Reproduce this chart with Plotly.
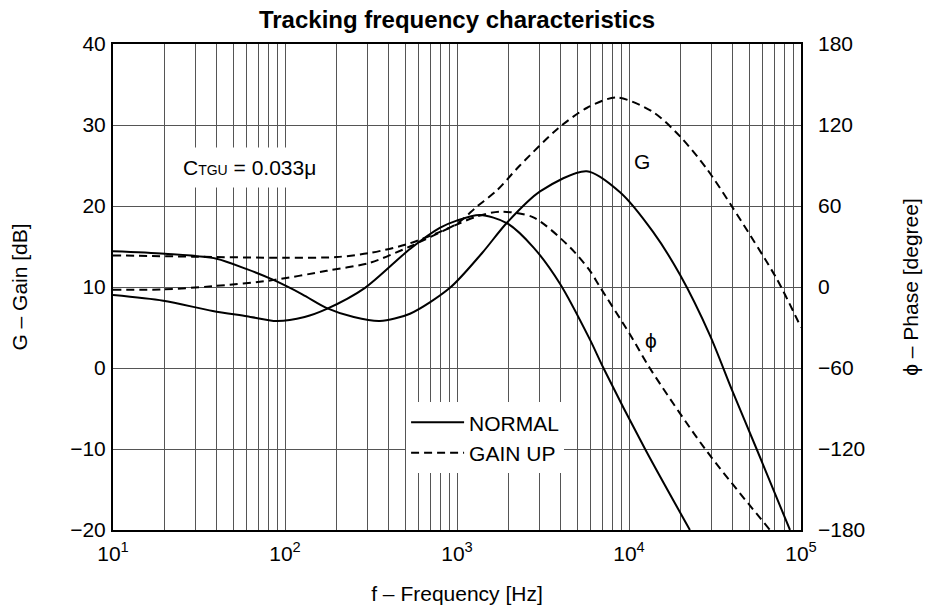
import plotly.graph_objects as go

# ---------------- data ----------------
# NORMAL mode, gain G [dB]
normal_gain_freq = [10, 20, 40, 60, 85, 126, 175, 251, 356, 533, 910, 1400, 1945, 3040,
                    5680, 8870, 13800, 19800, 29600, 39500, 55200, 86300]
normal_gain_db = [14.4, 14.1, 13.5, 12.2, 10.9, 9.1, 7.4, 6.3, 5.8, 6.7, 9.9, 14.2, 17.9,
                  21.8, 24.3, 21.7, 16.8, 11.5, 4.0, -2.6, -10.0, -20.0]

# NORMAL mode, phase [degree]
normal_phase_freq = [10, 19.6, 38, 60, 89.6, 130, 175, 292, 533, 794, 995, 1360, 1945,
                     2780, 3970, 5930, 7100, 12400, 22600]
normal_phase_deg = [-6.0, -10.2, -17.7, -21.6, -25.2, -22.2, -16.2, -0.6, 28.2, 43.8, 49.2,
                    53.4, 47.4, 29.4, 2.4, -39.0, -60.0, -120.0, -180.0]

# GAIN UP mode, gain G [dB]
gainup_gain_freq = [10, 28.7, 100, 200, 312, 533, 995, 1300, 1700, 2320, 3880, 5680,
                    8470, 13800, 19800, 28300, 39500, 72300, 100000]
gainup_gain_db = [13.9, 13.75, 13.6, 13.7, 14.2, 15.4, 17.8, 19.9, 21.9, 25.0, 29.6,
                  32.1, 33.4, 31.6, 28.6, 24.6, 20.0, 11.0, 5.0]

# GAIN UP mode, phase [degree]
gainup_phase_freq = [10, 19.6, 38, 85, 175, 312, 533, 995, 1300, 1780, 2780, 4540,
                     5930, 6780, 10100, 13200, 27700, 66000]
gainup_phase_deg = [-2.1, -1.8, 0.6, 5.1, 12.0, 18.0, 30.0, 46.2, 52.2, 55.8, 51.6,
                    29.4, 12.0, 0.0, -34.8, -60.0, -120.0, -180.0]

# axis ticks
x_tick_vals = [10, 100, 1000, 10000, 100000]
x_tick_text = ["10<sup>1</sup>", "10<sup>2</sup>", "10<sup>3</sup>", "10<sup>4</sup>", "10<sup>5</sup>"]
x_minor_vals = [k * 10 ** d for d in [1, 2, 3, 4] for k in range(2, 10)]
gain_ticks = [-20, -10, 0, 10, 20, 30, 40]
phase_ticks = [-180, -120, -60, 0, 60, 120, 180]

FONT = "Liberation Sans, Arial, sans-serif"
GRID = "#555555"
DASH = "8px,5px"
SMOOTH = 0.8

W, H = 926, 610

fig = go.Figure()

fig.add_trace(go.Scatter(
    x=normal_gain_freq, y=normal_gain_db, mode="lines", name="NORMAL",
    line=dict(color="black", width=2, shape="spline", smoothing=SMOOTH)))
fig.add_trace(go.Scatter(
    x=gainup_gain_freq, y=gainup_gain_db, mode="lines", name="GAIN UP",
    line=dict(color="black", width=2, dash=DASH, shape="spline", smoothing=SMOOTH)))
fig.add_trace(go.Scatter(
    x=normal_phase_freq, y=normal_phase_deg, mode="lines", name="NORMAL ϕ",
    yaxis="y2", showlegend=False,
    line=dict(color="black", width=2, shape="spline", smoothing=SMOOTH)))
fig.add_trace(go.Scatter(
    x=gainup_phase_freq, y=gainup_phase_deg, mode="lines", name="GAIN UP ϕ",
    yaxis="y2", showlegend=False,
    line=dict(color="black", width=2, dash=DASH, shape="spline", smoothing=SMOOTH)))

axis_common = dict(
    showline=True, linecolor="black", linewidth=2, mirror=True,
    ticks="", zeroline=False, automargin=False,
    tickfont=dict(family=FONT, size=21, color="black"),
)

fig.update_layout(
    width=W, height=H,
    margin=dict(l=113, r=125, t=44, b=80, pad=0),
    paper_bgcolor="white", plot_bgcolor="white",
    font=dict(family=FONT, size=21, color="black"),
    title=dict(text="<b>Tracking frequency characteristics</b>",
               font=dict(family=FONT, size=24, color="black"),
               x=0.5, xref="paper", xanchor="center",
               y=1 - 20 / H, yref="container", yanchor="middle"),
    xaxis=dict(type="log", range=[1, 5], tickmode="array",
               tickvals=x_tick_vals, ticktext=x_tick_text,
               showgrid=True, gridcolor=GRID, gridwidth=1,
               minor=dict(tickmode="array", tickvals=x_minor_vals, showgrid=True,
                          gridcolor=GRID, gridwidth=1, ticks=""),
               ticklabelstandoff=4,
               title=dict(text="f – Frequency [Hz]", standoff=22,
                          font=dict(family=FONT, size=21)),
               **axis_common),
    yaxis=dict(range=[-20, 40], tickvals=gain_ticks,
               showgrid=True, gridcolor=GRID, gridwidth=1,
               ticklabelstandoff=1,
               title=dict(text="G – Gain [dB]", standoff=37,
                          font=dict(family=FONT, size=21)),
               **axis_common),
    yaxis2=dict(range=[-180, 180], tickvals=phase_ticks, overlaying="y", side="right",
                showgrid=False, showline=False, ticks="", zeroline=False, automargin=False,
                ticklabelstandoff=16,
                tickfont=dict(family=FONT, size=21, color="black"),
                title=dict(text="ϕ – Phase [degree]", standoff=38,
                           font=dict(family=FONT, size=21))),
    legend=dict(x=0.426, y=0.263, xanchor="left", yanchor="top",
                bgcolor="white", borderwidth=0,
                font=dict(family=FONT, size=21, color="black"),
                itemwidth=53),
    showlegend=True,
)

fig.add_annotation(
    xref="paper", yref="paper", x=0.199, y=0.746, xanchor="center", yanchor="middle",
    text='C<span style="font-size:14px">TGU</span> = 0.033μ',
    showarrow=False, bgcolor="white", borderpad=8,
    font=dict(family=FONT, size=21, color="black"))
fig.add_annotation(
    xref="paper", yref="paper", x=0.783, y=0.787, text="G", showarrow=False,
    font=dict(family=FONT, size=21, color="black"))
fig.add_annotation(
    xref="paper", yref="paper", x=0.794, y=0.389, text="ϕ", showarrow=False,
    font=dict(family=FONT, size=21, color="black"))

# remove the default 8 px page margin so the figure fills the window exactly
fig.write_html("out.html", config={"displayModeBar": False},
               post_script="document.body.style.margin='0';")
